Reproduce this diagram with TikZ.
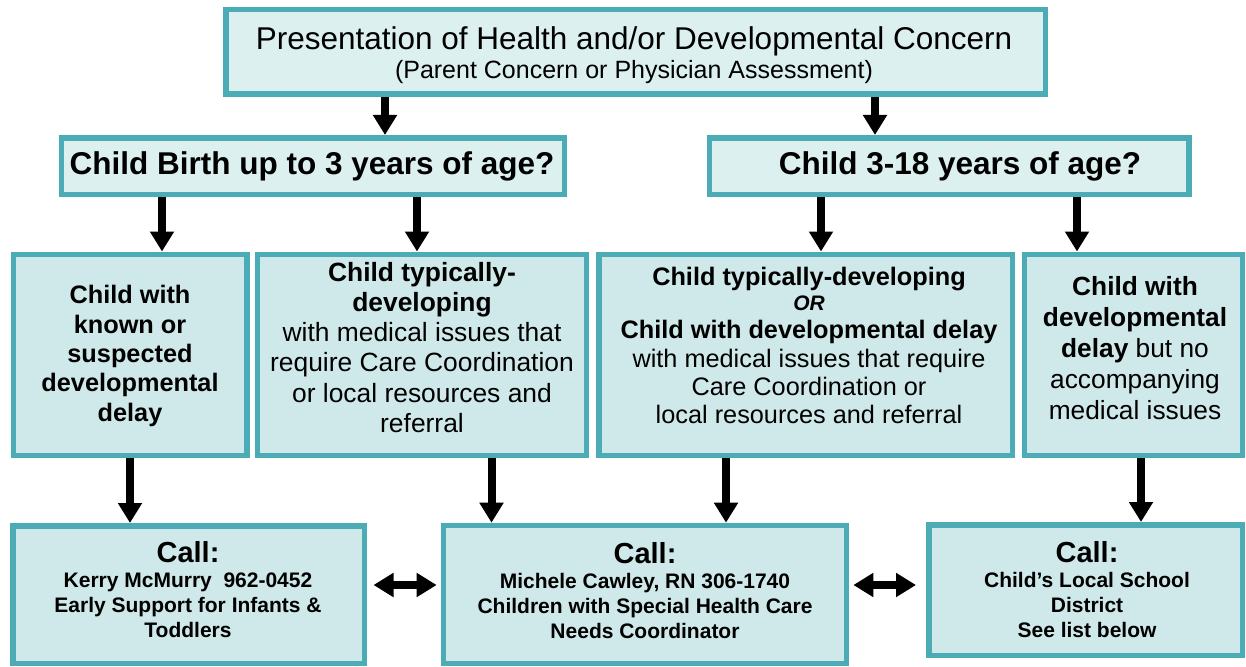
\documentclass[tikz,border=0pt]{standalone}
\usepackage{fontspec}
\setmainfont{Liberation Sans}
\usetikzlibrary{arrows.meta}
\definecolor{edgeteal}{HTML}{4BACB6}
\definecolor{filllight}{HTML}{DDF0F0}
\definecolor{fillmid}{HTML}{CFE9EA}
\tikzset{
  boxbase/.style={draw=edgeteal, line width=5.5pt, inner sep=0pt, rectangle},
  boxtop/.style={boxbase, fill=filllight},
  boxlow/.style={boxbase, fill=fillmid},
  txt/.style={align=center, inner sep=0pt, text=black},
  arr/.style={line width=8pt, -{Triangle[width=23pt,length=20pt]}},
  darr/.style={line width=8pt, {Triangle[width=23pt,length=20pt]}-{Triangle[width=23pt,length=20pt]}}
}
\begin{document}
\begin{tikzpicture}[x=1pt,y=-1pt]
\useasboundingbox (0,0) rectangle (1246,666);
% boxes
\node[boxtop, minimum width=819.5pt, minimum height=84.5pt] (top) at (635.5,52) {};
\node[boxtop, minimum width=503pt, minimum height=56.5pt] (young) at (312.75,166) {};
\node[boxtop, minimum width=479.5pt, minimum height=56.5pt] (old) at (949,166) {};
\node[boxlow, minimum width=233.5pt, minimum height=201pt] (ba) at (130,354.75) {};
\node[boxlow, minimum width=329pt, minimum height=201pt] (bb) at (421.75,354.75) {};
\node[boxlow, minimum width=413.9pt, minimum height=201pt] (bc) at (805.7,354.75) {};
\node[boxlow, minimum width=217.7pt, minimum height=201pt] (bd) at (1133.4,354.75) {};
\node[boxlow, minimum width=351.5pt, minimum height=137.5pt] (ce) at (188.5,594.5) {};
\node[boxlow, minimum width=403.2pt, minimum height=137.8pt] (cf) at (645,594.35) {};
\node[boxlow, minimum width=313.5pt, minimum height=130.5pt] (cg) at (1085.5,590) {};
% texts
\node[txt, font=\fontsize{31.5}{29.5}\selectfont] (ttop) at (634,55.3)
  {Presentation of Health and/or Developmental Concern\\
   {\fontsize{25}{29.5}\selectfont (Parent Concern or Physician Assessment)}};
\node[txt, font=\fontsize{31.5}{36}\selectfont\bfseries] (tyoung) at (312,166) {Child Birth up to 3 years of age?};
\node[txt, font=\fontsize{31.5}{36}\selectfont\bfseries] (told) at (960,166) {Child 3-18 years of age?};
\node[txt, font=\fontsize{25.3}{29.3}\selectfont\bfseries] (tba) at (130,356)
  {Child with\\known or\\suspected\\developmental\\delay};
\node[txt, font=\fontsize{26.4}{30.2}\selectfont] (tbb) at (422,347.3)
  {\textbf{Child typically-}\\\textbf{developing}\\with medical issues that\\require Care Coordination\\or local resources and\\referral};
\node[txt, font=\fontsize{25.3}{28.3}\selectfont] (tbc) at (809,345.6)
  {\textbf{Child typically-developing}\\[-3.3pt]
   {\fontsize{21}{25}\selectfont\bfseries\itshape OR}\\
   \textbf{Child with developmental delay}\\
   with medical issues that require\\Care Coordination or\\local resources and referral};
\node[txt, font=\fontsize{26.3}{31}\selectfont] (tbd) at (1135,347.7)
  {\textbf{Child with}\\\textbf{developmental}\\\textbf{delay} but no\\accompanying\\medical issues};
\node[txt, font=\fontsize{21}{25}\selectfont\bfseries] (tce) at (188,589.4)
  {{\fontsize{29}{25}\selectfont Call:}\\Kerry McMurry\ \ 962-0452\\Early Support for Infants \&\\Toddlers};
\node[txt, font=\fontsize{21}{25}\selectfont\bfseries] (tcf) at (645,591)
  {{\fontsize{29}{25}\selectfont Call:}\\Michele Cawley, RN 306-1740\\Children with Special Health Care\\Needs Coordinator};
\node[txt, font=\fontsize{21}{25}\selectfont\bfseries] (tcg) at (1087,589.4)
  {{\fontsize{29}{25}\selectfont Call:}\\Child’s Local School\\District\\See list below};
% arrow columns
\coordinate (x1) at (385,0);
\coordinate (x2) at (875,0);
\coordinate (x3) at (162,0);
\coordinate (x4) at (417,0);
\coordinate (x5) at (821,0);
\coordinate (x6) at (1077,0);
\coordinate (x7) at (130,0);
\coordinate (x8) at (491.5,0);
\coordinate (x9) at (726,0);
\coordinate (x10) at (1141,0);
\coordinate (dy) at (0,585);
\draw[arr] (top.south -| x1) -- (young.north -| x1);
\draw[arr] (top.south -| x2) -- (old.north -| x2);
\draw[arr] (young.south -| x3) -- (ba.north -| x3);
\draw[arr] (young.south -| x4) -- (bb.north -| x4);
\draw[arr] (old.south -| x5) -- (bc.north -| x5);
\draw[arr] (old.south -| x6) -- (bd.north -| x6);
\draw[arr] (ba.south -| x7) -- (ce.north -| x7);
\draw[arr] (bb.south -| x8) -- (cf.north -| x8);
\draw[arr] (bc.south -| x9) -- (cf.north -| x9);
\draw[arr] (bd.south -| x10) -- (cg.north -| x10);
\draw[darr, shorten <=6.5pt, shorten >=4pt] (ce.east |- dy) -- (cf.west |- dy);
\draw[darr, shorten <=4pt, shorten >=10pt] (cf.east |- dy) -- (cg.west |- dy);
\end{tikzpicture}
\end{document}
